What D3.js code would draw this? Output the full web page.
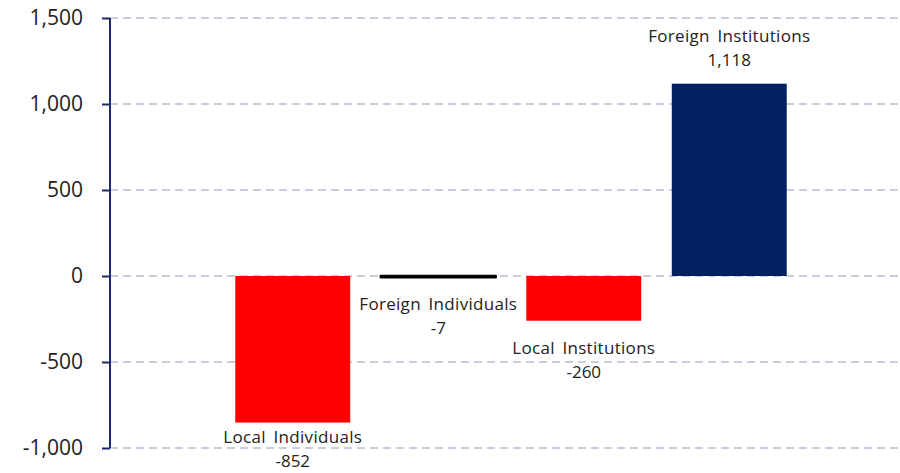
<!DOCTYPE html>
<html>
<head>
<meta charset="utf-8">
<script src="https://cdn.jsdelivr.net/npm/d3@7"></script>
<style>
  body { margin: 0; background: #fff; }
  text { font-family: "Open Sans", sans-serif; fill: #222; }
</style>
</head>
<body>
<div id="chart"></div>
<script>
// Data
const categories = ["Local Individuals", "Foreign Individuals", "Local Institutions", "Foreign Institutions"];
const values = [-852, -7, -260, 1118];
const barColors = ["#ff0000", "#000000", "#ff0000", "#002060"];
const yTicks = [-1000, -500, 0, 500, 1000, 1500];

const width = 900;
const height = 473;

const svg = d3.select("#chart")
    .append("svg")
    .attr("width", width)
    .attr("height", height);

// Scales
const y = d3.scaleLinear()
    .domain([-1000, 1500])
    .range([448, 18]);

const x = d3.scaleBand()
    .domain(categories)
    .range([220, 802])
    .paddingInner(0.21)
    .paddingOuter(0.105);

// plain hyphen instead of the unicode minus
const fmt = v => d3.format(",")(v).replace("\u2212", "-");

// Gridlines
svg.append("g")
    .selectAll("line")
    .data(yTicks)
    .enter()
    .append("line")
    .attr("x1", 110)
    .attr("x2", 900)
    .attr("y1", d => y(d))
    .attr("y2", d => y(d))
    .attr("stroke", "#c8cddf")
    .attr("stroke-width", 2)
    .attr("stroke-dasharray", "8,5");

// Y axis
const yAxis = svg.append("g")
    .attr("transform", "translate(110,0)")
    .call(d3.axisLeft(y).tickValues(yTicks).tickFormat(fmt).tickSize(8).tickPadding(19));

yAxis.select(".domain")
    .attr("stroke", "#1a2b6b")
    .attr("stroke-width", 2)
    .attr("d", `M0,${y(1500)}V${y(-1000)}`);
yAxis.selectAll(".tick line")
    .attr("stroke", "#1a2b6b")
    .attr("stroke-width", 2);
yAxis.selectAll(".tick text")
    .style("font-family", "'Open Sans', sans-serif")
    .style("font-size", "21px")
    .attr("fill", "#222");

// Bars
svg.append("g")
    .selectAll("rect")
    .data(categories)
    .enter()
    .append("rect")
    .attr("x", d => x(d))
    .attr("y", (d, i) => y(Math.max(0, values[i])))
    .attr("width", x.bandwidth())
    .attr("height", (d, i) => Math.abs(y(values[i]) - y(0)))
    .attr("fill", (d, i) => barColors[i])
    .attr("stroke", (d, i) => Math.abs(values[i]) < 20 ? barColors[i] : "none")
    .attr("stroke-width", 2.5)
    .attr("stroke-linejoin", "round");

// Labels
const labels = svg.append("g")
    .selectAll("g")
    .data(categories)
    .enter()
    .append("g")
    .attr("transform", (d, i) => {
        const cx = x(d) + x.bandwidth() / 2;
        let base;
        if (values[i] >= 0) {
            base = y(values[i]) - 42;
        } else {
            base = Math.min(y(values[i]) + 33, 443);
        }
        return `translate(${cx},${base})`;
    });

labels.append("text")
    .attr("text-anchor", "middle")
    .style("font-size", "17px")
    .style("letter-spacing", "0.3px")
    .style("word-spacing", "3px")
    .text(d => d);

labels.append("text")
    .attr("text-anchor", "middle")
    .attr("y", 24)
    .style("font-size", "17px")
    .text((d, i) => fmt(values[i]));
</script>
</body>
</html>
